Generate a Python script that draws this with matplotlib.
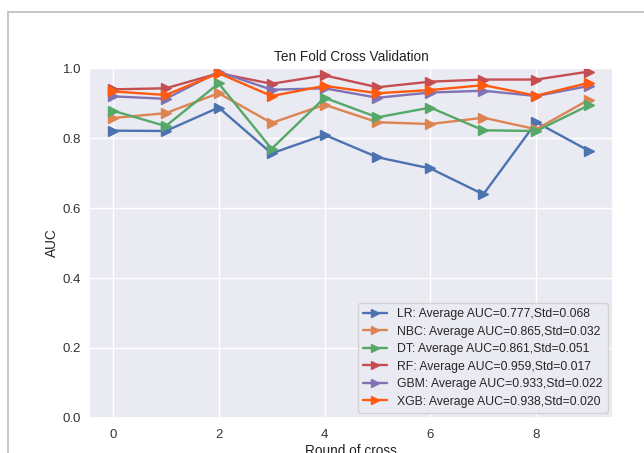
import numpy as np
import seaborn as sns
from matplotlib import pyplot as plt
from matplotlib.lines import Line2D

rounds = np.arange(10)
lr = [0.821, 0.820, 0.887, 0.756, 0.809, 0.745, 0.713, 0.639, 0.845, 0.763]
nbc = [0.857, 0.871, 0.928, 0.843, 0.895, 0.845, 0.840, 0.858, 0.825, 0.910]
dt = [0.878, 0.834, 0.956, 0.769, 0.915, 0.859, 0.887, 0.822, 0.820, 0.894]
rf = [0.939, 0.942, 0.985, 0.955, 0.979, 0.945, 0.961, 0.967, 0.967, 0.990]
gbm = [0.919, 0.912, 0.989, 0.938, 0.942, 0.915, 0.930, 0.935, 0.920, 0.949]
xgb = [0.933, 0.923, 0.985, 0.920, 0.949, 0.928, 0.937, 0.951, 0.921, 0.958]

labels = ["LR: Average AUC=0.777,Std=0.068",
          "NBC: Average AUC=0.865,Std=0.032",
          "DT: Average AUC=0.861,Std=0.051",
          "RF: Average AUC=0.959,Std=0.017",
          "GBM: Average AUC=0.933,Std=0.022",
          "XGB: Average AUC=0.938,Std=0.020"]
colors = ["#4C72B0", "#DD8452", "#55A868", "#C44E52", "#8172B3", "#FF5A10"]

sns.set_theme(style="darkgrid")
plt.rcParams['font.family'] = ['Liberation Sans', 'DejaVu Sans']

fig = plt.figure(figsize=(6.44, 4.53), dpi=100)
fig.patch.set_facecolor('white')

# grey frame of the original picture (cropped on the right and bottom)
fig.add_artist(Line2D([8/644, 8/644], [0, 1 - 12/453], transform=fig.transFigure, color='#bbbbbb', lw=1.2))
fig.add_artist(Line2D([8/644, 1], [1 - 12/453, 1 - 12/453], transform=fig.transFigure, color='#bbbbbb', lw=1.2))

ax = fig.add_axes([89/644, 1 - 418/453, 524/644, 350/453])
for vals, lab, c in zip([lr, nbc, dt, rf, gbm, xgb], labels, colors):
    ax.plot(rounds, vals, marker='>', markersize=7, lw=1.7, color=c, label=lab)

ax.set_ylim(0, 1.0)
ax.set_xlim(-0.45, 9.45)
ax.set_xticks([0, 2, 4, 6, 8])
ax.set_yticks([0.0, 0.2, 0.4, 0.6, 0.8, 1.0])
ax.tick_params(labelsize=9.5, colors='#333333', length=0)
ax.tick_params(axis='x', pad=8)
ax.tick_params(axis='y', pad=5.5)
ax.set_title("Ten Fold Cross Validation", fontsize=9.8, color='#222222', pad=5)
ax.set_xlabel("Round of cross", fontsize=9.8, color='#222222', labelpad=2)
ax.set_ylabel("AUC", fontsize=9.8, color='#222222', labelpad=3)
ax.legend(loc='lower right', fontsize=8.8, handlelength=2.0, borderaxespad=0.45,
          labelspacing=0.45, handletextpad=0.8, markerscale=0.85)

fig.savefig("out.png", dpi=100)
